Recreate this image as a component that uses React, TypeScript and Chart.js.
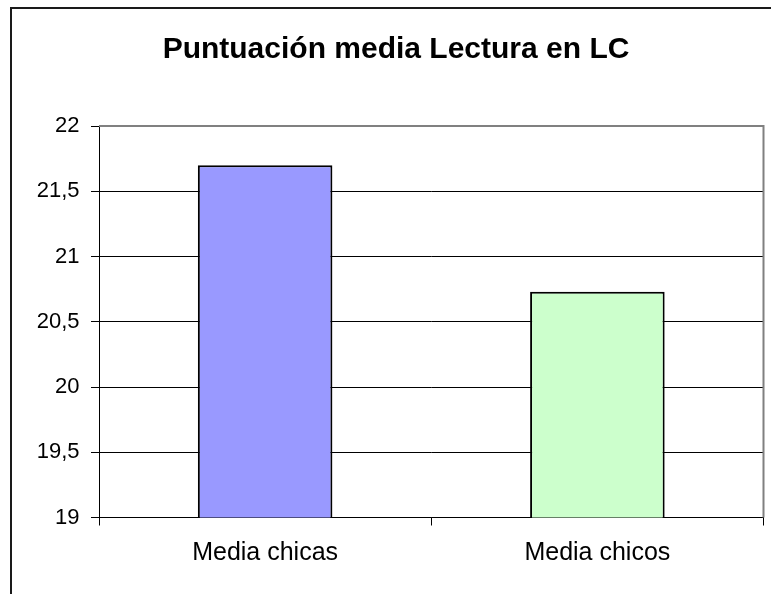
import React, { useEffect, useRef } from "react";
import { Chart, registerables } from "chart.js";

Chart.register(...registerables);

const title = "Puntuación media Lectura en LC";
const categories = ["Media chicas", "Media chicos"];
const values = [21.7, 20.73];
const yMin = 19;
const yMax = 22;
const yStep = 0.5;

const barColors = ["#9999FF", "#CCFFCC"];
const FONT = "'Liberation Sans', Arial, sans-serif";

const framePlugin = {
  id: "frame",
  beforeDraw(chart: any) {
    const ctx = chart.ctx;
    ctx.save();
    ctx.fillStyle = "#ffffff";
    ctx.fillRect(0, 0, chart.width, chart.height);
    ctx.strokeStyle = "#1a1a1a";
    ctx.lineWidth = 2;
    ctx.beginPath();
    ctx.moveTo(11, chart.height + 5);
    ctx.lineTo(11, 8);
    ctx.lineTo(chart.width + 5, 8);
    ctx.stroke();
    ctx.restore();
  },
  beforeDatasetsDraw(chart: any) {
    const { ctx, chartArea } = chart;
    ctx.save();
    ctx.strokeStyle = "#808080";
    ctx.lineWidth = 2;
    ctx.beginPath();
    ctx.moveTo(chartArea.left, chartArea.top);
    ctx.lineTo(chartArea.right, chartArea.top);
    ctx.lineTo(chartArea.right, chartArea.bottom);
    ctx.stroke();
    ctx.restore();
  },
};

export default function App() {
  const ref = useRef<HTMLCanvasElement | null>(null);

  useEffect(() => {
    if (!ref.current) return;
    const chart = new Chart(ref.current, {
      type: "bar",
      data: {
        labels: categories,
        datasets: [
          {
            data: values,
            backgroundColor: barColors,
            borderColor: "#000000",
            borderWidth: 2,
            borderSkipped: false,
            categoryPercentage: 1,
            barPercentage: 0.405,
          },
        ],
      },
      options: {
        animation: false,
        responsive: true,
        maintainAspectRatio: false,
        devicePixelRatio: 1,
        layout: { padding: { left: 28.5, right: 7.5, top: 0, bottom: 0 } },
        plugins: {
          legend: { display: false },
          tooltip: { enabled: false },
          title: {
            display: true,
            text: title,
            color: "#000000",
            font: { family: FONT, size: 30, weight: "bold", lineHeight: 1.2 },
            padding: { top: 31.5, bottom: 58.5 },
          },
        },
        scales: {
          x: {
            type: "category",
            offset: true,
            grid: {
              display: true,
              offset: true,
              drawOnChartArea: false,
              drawTicks: true,
              tickLength: 8,
              tickColor: "#000000",
              color: "#000000",
            },
            border: { display: true, color: "#000000", width: 1 },
            ticks: {
              color: "#000000",
              font: { family: FONT, size: 25, lineHeight: 1.2 },
              padding: 12.3,
              maxRotation: 0,
            },
            afterFit(scale: any) {
              scale.height = 76.5;
            },
          },
          y: {
            min: yMin,
            max: yMax,
            grid: {
              color: "#000000",
              lineWidth: 1,
              drawTicks: true,
              tickLength: 8,
              tickColor: "#000000",
            },
            border: { display: true, color: "#000000", width: 1 },
            ticks: {
              stepSize: yStep,
              color: "#000000",
              font: { family: FONT, size: 22 },
              padding: 11.5,
              callback: (v: any) => String(v).replace(".", ","),
            },
            afterFit(scale: any) {
              scale.width = 70.5;
            },
          },
        },
      },
      plugins: [framePlugin],
    });
    return () => chart.destroy();
  }, []);

  return (
    <div
      style={{
        position: "fixed",
        left: 0,
        top: 0,
        width: 771,
        height: 594,
        background: "#ffffff",
      }}
    >
      <canvas ref={ref} width={771} height={594} />
    </div>
  );
}
